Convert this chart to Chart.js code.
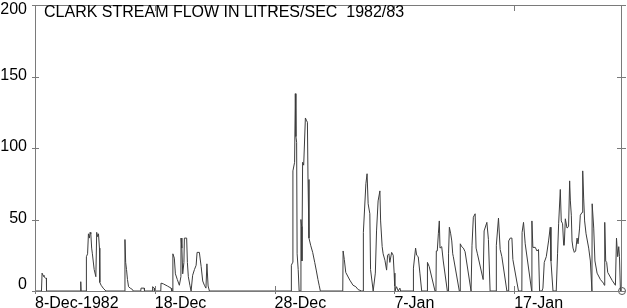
<!DOCTYPE html>
<html>
<head>
<meta charset="utf-8">
<title>Clark Stream flow 1982/83</title>
<script src="https://cdn.jsdelivr.net/npm/chart.js@4/dist/chart.umd.min.js"></script>
<style>
  html, body { margin: 0; padding: 0; background: #fff; }
  #wrap { width: 627px; height: 308px; position: relative; }
</style>
</head>
<body>
<div id="wrap"><canvas id="grafico"></canvas></div>
<script>
// Titulo y ejes
const chartTitle = 'CLARK STREAM FLOW IN LITRES/SEC  1982/83';
const tickDays = [0, 10, 20, 30, 40];
const tickLabels = ['8-Dec-1982', '18-Dec', '28-Dec', '7-Jan', '17-Jan'];
const yTicks = [0, 50, 100, 150, 200];

// Caudal: dias desde el 8-Dec-1982 y litros/seg
const flowDay = [
    0, 0.54, 0.59, 0.67, 0.75, 0.88, 0.95, 0.96,
    3.81, 3.82, 3.85,
    4.27, 4.29, 4.39, 4.46, 4.54, 4.60, 4.66, 4.73, 4.79, 4.94, 5.08, 5.15, 5.23, 5.30, 5.38, 5.41, 5.52, 5.69, 5.92,
    7.49, 7.51, 7.57, 7.64, 7.72, 7.81, 7.95, 8.14, 8.20,
    8.83, 8.85, 9.12, 9.14,
    9.79, 9.82, 9.96, 9.97,
    10.50, 10.52, 10.71, 11.05, 11.36, 11.42,
    11.49, 11.51, 11.63, 11.72, 11.88, 12.05, 12.18, 12.19, 12.26, 12.33, 12.43, 12.47, 12.66, 12.72, 12.80, 12.93,
    13.03, 13.16, 13.31, 13.45, 13.53, 13.72, 13.87, 14.00, 14.14, 14.27, 14.35, 14.45, 14.56,
    21.38, 21.40, 21.51, 21.53, 21.67, 21.73, 21.78, 21.84, 21.88, 21.97, 22.05, 22.18, 22.20, 22.26, 22.28,
    22.34, 22.43, 22.57, 22.68, 22.74, 22.79, 22.87, 23.01, 23.18, 23.35, 23.49, 23.62, 23.72, 23.82,
    25.69, 25.72, 25.82, 25.94, 26.28, 26.55, 26.78, 26.97, 27.26,
    27.39, 27.41, 27.62, 27.72, 27.81, 27.95, 28.01, 28.23, 28.41, 28.51, 28.64, 28.79, 28.85, 28.98, 29.06,
    29.21, 29.35, 29.43, 29.54, 29.62, 29.77, 29.90, 29.98, 30.04, 30.18, 30.32, 30.46, 30.52,
    31.57, 31.59, 31.77, 31.86, 31.99, 32.13, 32.28,
    32.74, 32.76, 32.91, 33.39,
    33.47, 33.50, 33.58, 33.67, 33.75, 33.81, 33.95, 34.08, 34.42,
    34.50, 34.52, 34.59, 34.70, 34.79, 34.87, 34.92, 35.42,
    35.48, 35.50, 35.62, 35.76, 35.90, 36.40,
    36.46, 36.48, 36.59, 36.74, 36.82, 36.93, 37.41, 37.49, 37.72, 37.85, 37.99,
    38.49, 38.51, 38.69, 38.83, 38.97, 39.39,
    39.52, 39.54, 39.67, 39.81, 39.89, 40.36,
    40.64, 40.66, 40.78, 40.92, 41.46, 41.48, 41.56, 41.76, 41.90, 42.03, 42.12, 42.32, 42.40, 42.51, 42.68,
    42.87, 43.01, 43.07, 43.24,
    43.51, 43.62, 43.71, 43.85, 43.93, 44.04, 44.13, 44.18, 44.27, 44.41, 44.54, 44.63, 44.69, 44.77, 44.83,
    44.91, 45.02, 45.13, 45.25, 45.33, 45.46, 45.52, 45.67, 45.72, 45.80, 45.88, 46.00, 46.22, 46.36, 46.49,
    46.51, 46.64, 46.74, 46.92, 47.20, 47.45, 47.53, 47.56, 47.64, 47.72, 47.81, 48.18, 48.45, 48.54, 48.64,
    48.73, 48.79, 48.87, 49.00
];
const flowLps = [
    0, 0, 12.5, 11, 10, 9, 9, 0,
    0, 6.5, 0,
    0, 24, 26, 40, 37, 41, 40, 30, 26, 15, 10, 41, 38, 40, 30, 6, 4, 2, 0,
    0, 36, 20, 15, 8, 3, 2, 1, 0,
    0, 2, 2, 0,
    0, 3, 2, 0,
    0, 5.5, 5, 3.5, 2, 0,
    0, 26, 23, 12, 8, 4, 10, 37, 30, 12, 20, 37, 37, 20, 10, 4,
    0, 11, 15, 18, 27, 27, 17, 7, 4, 2, 19, 3.5, 0,
    0, 18, 20, 84, 90, 138, 108, 104, 26, 15, 0, 0, 50, 45, 21,
    90, 88, 121, 119, 118, 78, 37, 32, 27, 20, 14, 8, 4, 0,
    0, 28, 22, 13, 7.6, 4, 3, 1, 0,
    0, 41, 75, 82, 61, 54, 15, 0, 12.5, 42, 63, 70, 49, 31, 26,
    21.5, 14.6, 25, 26, 20, 27, 25, 12.5, 0, 3, 0, 2, 0,
    0, 16, 30, 25, 24, 12.5, 0,
    0, 20, 17, 0,
    0, 28, 28, 40, 49, 30, 31, 21, 0,
    0, 26, 44.6, 40, 35, 26, 24, 0,
    0, 33, 31, 30, 27.5, 0,
    0, 32, 51.6, 54, 30, 26, 8, 42, 48, 36, 0,
    0, 32, 51, 29, 24, 0,
    0, 35, 37, 37, 22, 0,
    0, 41, 48, 33, 0, 49, 30.5, 30.5, 28, 29, 0, 0, 2, 20, 24,
    35, 44.6, 21, 0,
    0, 26, 47, 71, 49, 47, 32, 32, 50.5, 44, 45, 77, 63, 53, 35,
    30, 27, 28, 37, 33, 44, 53, 55, 84, 65, 49, 40, 30, 21, 0,
    61, 44, 21, 12.5, 8, 5.5, 4, 48, 21, 20, 13, 7.4, 4, 37, 24,
    31, 24, 0, 0
];

// Marcador final (circulo abierto)
const endDay = [49];
const endLps = [0];

const COLORES = {
    linea: '#3c3c3c',
    marco: '#7a7a7a',
    texto: '#000'
};
const FUENTE = '"Liberation Sans", Arial, sans-serif';

// Marco, marcas de eje, etiquetas Y y titulo
const marcoPlugin = {
    id: 'marco',
    afterDraw(chart) {
        const { ctx, chartArea: a, scales } = chart;
        ctx.save();
        ctx.strokeStyle = COLORES.marco;
        ctx.lineWidth = 1;
        ctx.strokeRect(a.left + 0.5, a.top + 0.5, a.right - a.left - 1, a.bottom - a.top);
        ctx.beginPath();
        tickDays.forEach(function(d) {
            const x = Math.round(scales.x.getPixelForValue(d)) + 0.5;
            ctx.moveTo(x, a.bottom + 3);
            ctx.lineTo(x, a.bottom - 5);
            ctx.moveTo(x, a.top);
            ctx.lineTo(x, a.top + 6);
        });
        yTicks.forEach(function(v) {
            const y = Math.round(scales.y.getPixelForValue(v)) + 0.5;
            ctx.moveTo(a.left - 3, y);
            ctx.lineTo(a.left + 4, y);
            ctx.moveTo(a.right - 5, y);
            ctx.lineTo(a.right + 4, y);
        });
        ctx.stroke();

        ctx.fillStyle = COLORES.texto;
        ctx.font = '16px ' + FUENTE;
        ctx.textAlign = 'right';
        ctx.textBaseline = 'middle';
        yTicks.forEach(function(v) {
            let y = scales.y.getPixelForValue(v) - 1;
            y = Math.min(Math.max(y, a.top + 5), a.bottom - 6);
            ctx.fillText(String(v), 27, y);
        });

        ctx.textAlign = 'left';
        ctx.fillText(chartTitle, 44, 13);
        ctx.restore();
    }
};

const puntos = flowDay.map(function(d, i) { return { x: d, y: flowLps[i] }; });
const marcador = endDay.map(function(d, i) { return { x: d, y: endLps[i] }; });

new Chart(document.getElementById('grafico'), {
    type: 'line',
    data: {
        datasets: [{
            label: 'Flow',
            data: puntos,
            borderColor: COLORES.linea,
            borderWidth: 1,
            pointRadius: 0,
            tension: 0,
            fill: false
        }, {
            label: 'End',
            data: marcador,
            showLine: false,
            pointRadius: 3.5,
            pointBackgroundColor: '#fff',
            pointBorderColor: '#555',
            pointBorderWidth: 1,
            clip: false
        }]
    },
    options: {
        responsive: true,
        maintainAspectRatio: false,
        animation: false,
        events: [],
        layout: { padding: { top: 4, right: 5, left: 0, bottom: 0 } },
        plugins: {
            legend: { display: false },
            tooltip: { enabled: false },
            title: { display: false }
        },
        scales: {
            x: {
                type: 'linear',
                min: 0,
                max: 49,
                grid: { display: false },
                border: { display: false },
                afterBuildTicks: function(axis) {
                    axis.ticks = tickDays.map(function(v) { return { value: v }; });
                },
                afterFit: function(scale) { scale.height = 17; },
                ticks: {
                    autoSkip: false,
                    maxRotation: 0,
                    align: 'start',
                    padding: -5,
                    color: COLORES.texto,
                    font: { family: FUENTE, size: 16 },
                    callback: function(value) {
                        const i = tickDays.indexOf(value);
                        return i >= 0 ? tickLabels[i] : '';
                    }
                }
            },
            y: {
                min: 0,
                max: 200,
                grid: { display: false },
                border: { display: false },
                ticks: { display: false },
                afterFit: function(scale) { scale.width = 35; }
            }
        }
    },
    plugins: [marcoPlugin]
});
</script>
</body>
</html>
